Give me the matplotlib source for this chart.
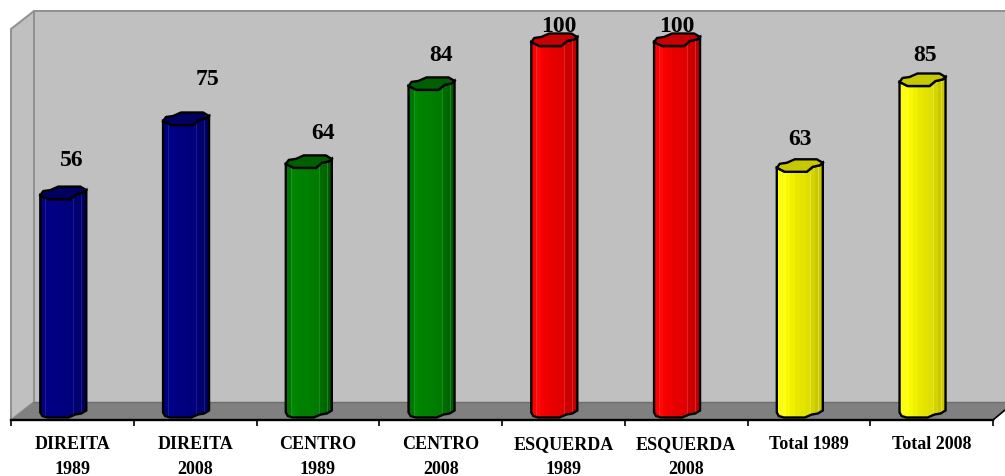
import matplotlib
matplotlib.use("Agg")
import matplotlib.pyplot as plt
from matplotlib.patches import Polygon

categories = ["DIREITA\n1989", "DIREITA\n2008", "CENTRO\n1989", "CENTRO\n2008",
              "ESQUERDA\n1989", "ESQUERDA\n2008", "Total 1989", "Total 2008"]
values = [56, 75, 64, 84, 100, 100, 63, 85]
# label offsets from the top centre of each category, in pixels (moved by hand)
label_dx = [-1, 12, 5, 0, -5, -9, -9, -7]
label_dy = [40, 46.5, 35, 35, 20, 20, 33, 31]

# left to right shades of each cylinder
blue = ["#000078", "#000088", "#000084", "#000080", "#000080", "#00007c", "#00007a", "#000070", "#000068", "#000060"]
green = ["#007400", "#008800", "#008400", "#008000", "#008000", "#007c00", "#007a00", "#006c00", "#006400", "#005c00"]
red = ["#ff0000", "#ff0808", "#f80000", "#f00000", "#e80000", "#e40000", "#e00000", "#cc0000", "#c80000", "#c00000"]
yellow = ["#ffff00", "#ffff10", "#f8f800", "#f0f000", "#e8e800", "#e4e400", "#e0e000", "#d4d400", "#ccc800", "#c8c800"]
shades = [blue, blue, green, green, red, red, yellow, yellow]
top_colors = ["#000060", "#000060", "#006000", "#006000", "#c80000", "#c80000", "#c8c800", "#c8c800"]
shine = ["#3030a0", "#3030a0", "#30a030", "#30a030", "#f04040", "#f04040", "#ecec70", "#ecec70"]

W, H = 1005, 477
X0, X1 = 11, 993      # category axis ends, pixels
Y0, YTOP = 418.5, 47  # pixels of value 0 and of the top of the value axis
PX_PER_UNIT = 3.90
ymax = (Y0 - YTOP) / PX_PER_UNIT

fig = plt.figure(figsize=(W / 100, H / 100), dpi=100, facecolor="white")
ax = fig.add_axes([X0 / W, 1 - 421 / H, (X1 - X0) / W, (421 - YTOP) / H])
ax.set_xlim(-0.5, len(values) - 0.5)
ax.set_ylim(-2.5 / PX_PER_UNIT, ymax)
ax.patch.set_visible(False)
for name in ["top", "left", "right", "bottom"]:
    ax.spines[name].set_visible(False)
ax.set_yticks([])

ux = len(values) / (X1 - X0)  # data units per pixel
uy = 1 / PX_PER_UNIT


def px(x, y):
    # x,y as pixels in image coords -> data coords
    return (x - X0) * ux - 0.5, (Y0 - y) * uy


def add_px(points, **kw):
    kw.setdefault("clip_on", False)
    p = Polygon([px(*q) for q in points], closed=True, **kw)
    ax.add_patch(p)
    return p


# walls and floor
add_px([(34, 12), (1005, 12), (1005, 403), (34, 403)], fc="#c0c0c0", ec="none", zorder=1)
add_px([(11, 30), (34, 12), (34, 403), (11, 421)], fc="#c0c0c0", ec="#909090", lw=1.4, zorder=1)
add_px([(11, 421), (34, 403), (1005, 403), (1005, 411), (993, 421)], fc="#808080", ec="none", zorder=1)
ax.plot(*zip(*[px(34, 12.5), px(1005, 12.5)]), color="#909090", lw=1.4, clip_on=False, zorder=2)
ax.plot(*zip(*[px(34, 403), px(1005, 403)]), color="#6e6e6e", lw=1, clip_on=False, zorder=2)
ax.plot(*zip(*[px(993, 421), px(1005, 411)]), color="black", lw=1.2, clip_on=False, zorder=2)

# cylinder outline, pixels from the left edge of the bar
top_shape = [(0, 4), (3, 8), (10, 9), (18, 12.5), (40, 12.5), (46, 9), (43, 6.5), (36, 5), (30, 0), (8, 0)]
front_edge = [(0, 4), (8, 0), (30, 0), (36, 5), (43, 6.5), (46, 9)]
bottom_shape = [(46, 7), (41, 4), (35, 3), (28, 0), (7, 0), (2, 1.5), (0, 5)]
strip_w = [5, 4, 4, 5, 5, 5, 5, 5, 4, 4]
shine_at = [5, 33, 41]

for i, v in enumerate(values):
    h = min(v, ymax)  # the value axis stops short of 100
    left = X0 + 29.3 + i * (X1 - X0) / len(values)
    ytop = Y0 - h * PX_PER_UNIT
    body = [(left + a, ytop - b) for a, b in front_edge]
    body += [(left + a, Y0 - b) for a, b in bottom_shape]
    outline = add_px(body, fc="none", ec="none", zorder=3)
    pos = left
    for color, sw in zip(shades[i], strip_w):
        s = add_px([(pos, ytop - 15), (pos + sw + 0.4, ytop - 15), (pos + sw + 0.4, Y0 + 2), (pos, Y0 + 2)],
                   fc=color, ec="none", zorder=3)
        s.set_clip_on(True)
        s.set_clip_path(outline)
        s.set_clip_box(None)
        pos += sw
    for off in shine_at:
        line = ax.plot(*zip(*[px(left + off, ytop - 15), px(left + off, Y0 + 2)]),
                       color=shine[i], lw=0.7, alpha=0.6, zorder=3)[0]
        line.set_clip_path(outline)
        line.set_clip_box(None)
    add_px(body, fc="none", ec="black", lw=1.7, zorder=4)
    add_px([(left + a, ytop - b) for a, b in top_shape], fc=top_colors[i], ec="black", lw=1.7, zorder=5)
    ax.annotate(str(v), xy=(i, h), xytext=(label_dx[i] * 0.72, label_dy[i] * 0.72),
                textcoords="offset points", ha="center", va="center", fontsize=17,
                family="Liberation Serif", weight="bold", color="black", zorder=6, annotation_clip=False)

# category axis: ticks between the bars, labels on minor ticks at the centres
ax.plot(*zip(*[px(X0, 421), px(X1, 421)]), color="black", lw=1.7, clip_on=False, zorder=6)
ax.set_xticks([k - 0.5 for k in range(len(values) + 1)])
ax.set_xticklabels([])
ax.set_xticks(range(len(values)), categories, minor=True)
ax.tick_params(axis="x", which="major", length=4.5, width=1.2, color="black", pad=0)
ax.tick_params(axis="x", which="minor", length=0, pad=11, labelsize=13)
for t in ax.get_xticklabels(minor=True):
    t.set_family("Liberation Serif")
    t.set_weight("bold")
    t.set_linespacing(1.6)

fig.savefig("out.png", dpi=100, facecolor="white")
